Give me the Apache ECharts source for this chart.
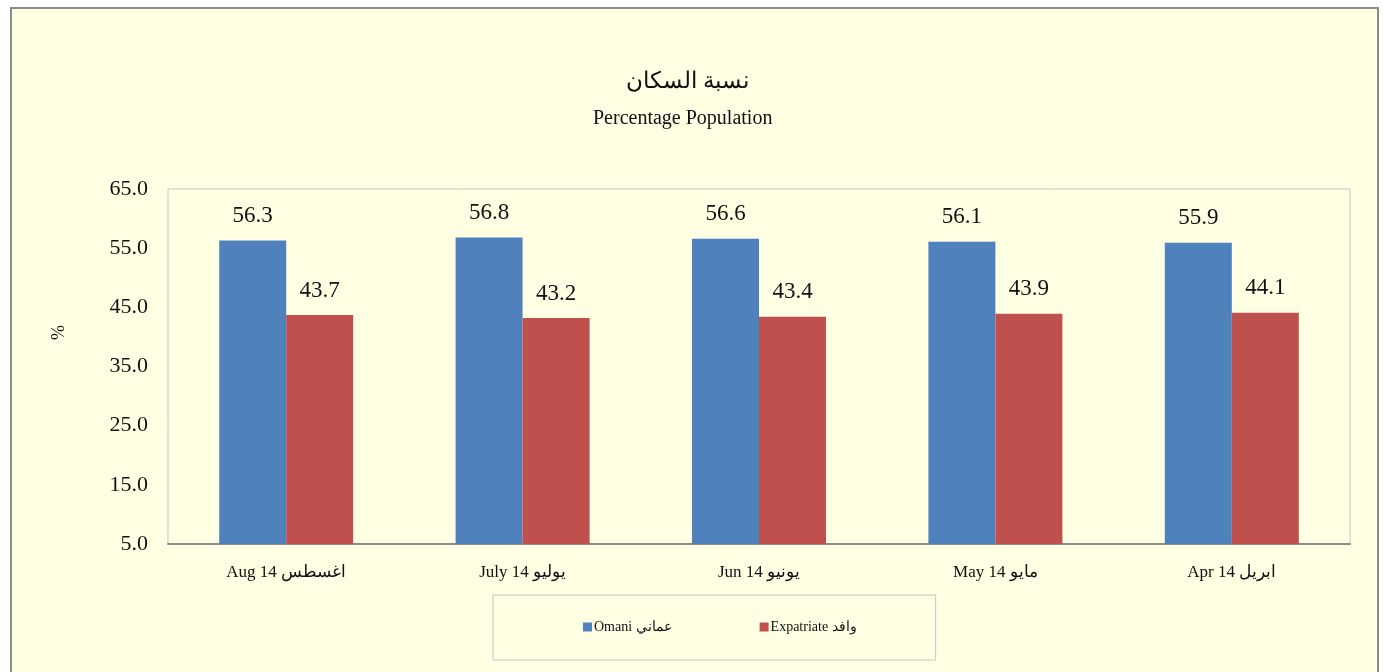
<!DOCTYPE html>
<html>
<head>
<meta charset="utf-8">
<script src="https://cdn.jsdelivr.net/npm/echarts@6/dist/echarts.min.js"></script>
<style>
  html, body { margin: 0; padding: 0; background: #ffffff; }
  #main {
    position: absolute; left: 10px; top: 7px;
    width: 1369px; height: 665px;
    box-sizing: border-box;
    border: 2px solid #8c8c8c; border-bottom: none;
  }
</style>
</head>
<body>
<div id="main"></div>
<script>
// months, newest first (as in the source sheet)
var categories = ['Aug 14 اغسطس', 'July 14 يوليو', 'Jun 14 يونيو', 'May 14 مايو', 'Apr 14 ابريل'];
var omani = [56.3, 56.8, 56.6, 56.1, 55.9];
var expat = [43.7, 43.2, 43.4, 43.9, 44.1];
var yTicks = [5, 15, 25, 35, 45, 55, 65];

var serif = '"Liberation Serif", "Times New Roman", "DejaVu Serif", serif';

var chart = echarts.init(document.getElementById('main'));

var barLabel = {
  show: true,
  position: 'top',
  distance: 13,
  color: '#111',
  fontFamily: serif,
  fontSize: 23,
  formatter: function (p) { return p.value.toFixed(1); }
};

var option = {
  backgroundColor: '#ffffe4',
  animation: false,
  title: [{
    text: 'نسبة السكان',
    left: 609, top: 56,
    textStyle: { fontFamily: serif, fontSize: 23, fontWeight: 'normal', color: '#111' }
  }, {
    text: 'Percentage Population',
    left: 576, top: 95,
    textStyle: { fontFamily: serif, fontSize: 20, fontWeight: 'normal', color: '#111' }
  }],
  legend: {
    left: 481, top: 586,
    padding: [25, 79, 26, 90],
    itemGap: 88,
    itemWidth: 9, itemHeight: 9,
    icon: 'rect',
    borderColor: '#c4c4c4', borderWidth: 1,
    textStyle: { fontFamily: serif, fontSize: 14, color: '#111', padding: [0, 0, 0, -3] },
    data: ['Omani عماني', 'Expatriate وافد']
  },
  grid: {
    left: 156, top: 180, width: 1182, height: 355,
    show: true, borderColor: '#c4c4c4', borderWidth: 1,
    backgroundColor: 'transparent'
  },
  xAxis: {
    type: 'category',
    data: categories,
    axisLine: { lineStyle: { color: '#8c8c8c', width: 2 } },
    axisTick: { show: false },
    axisLabel: { margin: 20, fontFamily: serif, fontSize: 17, color: '#111' }
  },
  yAxis: {
    type: 'value',
    min: 5, max: 65,
    name: '%',
    nameLocation: 'middle',
    nameRotate: 90,
    nameGap: 100,
    nameTextStyle: { fontFamily: serif, fontSize: 18, color: '#111', padding: [0, 0, 0, 68] },
    splitLine: { show: false },
    axisLine: { show: false },
    axisTick: { show: false },
    axisLabel: {
      customValues: yTicks,
      margin: 20,
      fontFamily: serif, fontSize: 22, color: '#111',
      formatter: function (v) { return v.toFixed(1); }
    }
  },
  series: [{
    name: 'Omani عماني',
    type: 'bar',
    data: omani,
    barWidth: 67,
    barGap: '0%',
    itemStyle: { color: '#4f81bd' },
    label: barLabel
  }, {
    name: 'Expatriate وافد',
    type: 'bar',
    data: expat,
    barWidth: 67,
    barGap: '0%',
    itemStyle: { color: '#c0504d' },
    label: barLabel
  }]
};

chart.setOption(option);
</script>
</body>
</html>
